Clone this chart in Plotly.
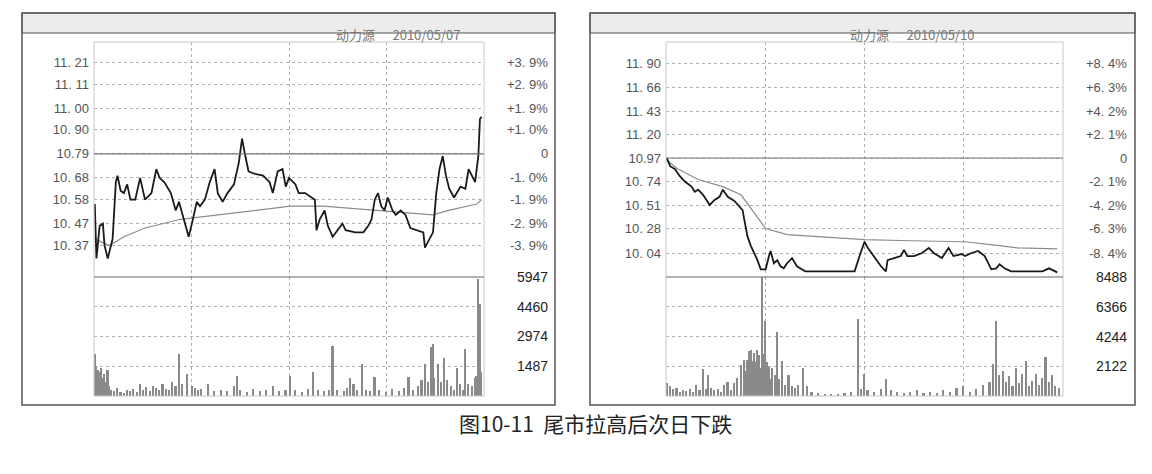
import plotly.graph_objects as go

# ---------------- data: left panel (2010/05/07) ----------------
L_title = "动力源      2010/05/07"
L_min = [0,1,3,5,6,8,11,13,14,16,18,20,22,25,28,31,35,38,40,43,47,50,52,56,58,60,63,65,68,71,74,76,79,82,86,89,91,93,95,98,104,108,110,113,116,118,120,124,126,130,134,136,137,139,142,144,147,150,153,155,161,166,169,171,173,175,177,179,181,184,186,189,192,195,199,203,204,206,209,211,213,215,217,219,222,226,229,231,233,235,237,238,239]
L_price = [10.56,10.31,10.46,10.47,10.37,10.31,10.40,10.66,10.69,10.62,10.61,10.65,10.58,10.58,10.68,10.58,10.61,10.72,10.68,10.66,10.61,10.53,10.57,10.46,10.41,10.47,10.57,10.55,10.58,10.66,10.72,10.61,10.57,10.61,10.65,10.75,10.86,10.78,10.71,10.70,10.69,10.66,10.61,10.71,10.72,10.64,10.68,10.65,10.61,10.61,10.59,10.58,10.44,10.49,10.53,10.46,10.41,10.44,10.47,10.44,10.43,10.43,10.46,10.49,10.58,10.61,10.55,10.53,10.59,10.53,10.51,10.53,10.51,10.45,10.44,10.43,10.36,10.39,10.43,10.61,10.72,10.78,10.69,10.63,10.59,10.64,10.63,10.72,10.69,10.66,10.78,10.95,10.96]
L_avg_min = [0,9,18,31,53,86,121,141,174,209,218,236,239]
L_avg = [10.40,10.37,10.41,10.45,10.49,10.52,10.55,10.55,10.53,10.51,10.53,10.56,10.58]
L_vol_min = [0,1,2,3,4,5,6,7,8,9,10,12,14,16,18,20,22,24,26,28,30,32,34,36,38,40,42,44,46,48,50,52,54,57,60,62,64,66,70,74,78,82,86,88,90,94,98,102,106,110,114,118,121,124,128,132,135,138,142,145,147,150,154,156,158,160,162,165,168,170,173,176,180,184,188,191,194,197,200,202,204,206,208,209,210,212,214,216,218,220,222,224,226,228,229,231,233,235,236,237,238,239]
L_vol = [2090,1500,1300,1200,1400,900,1100,700,1300,500,300,250,400,200,150,300,250,350,200,600,300,450,250,500,400,300,600,350,300,700,500,2100,600,1100,500,400,300,350,600,250,300,250,500,1000,300,200,350,250,300,500,250,300,1000,300,200,350,1200,300,250,300,2500,300,250,400,900,600,300,1600,300,250,950,300,200,350,250,400,950,300,500,800,1600,700,2450,2600,900,1600,700,1900,800,500,300,1400,600,300,2350,600,500,900,1000,5860,4600,1200]

# ---------------- data: right panel (2010/05/10) ----------------
R_title = "动力源      2010/05/10"
R_min = [0,2,5,8,11,15,17,19,22,24,26,29,32,34,37,41,44,46,47,49,51,55,57,60,62,63,65,67,69,71,73,76,79,84,92,105,114,117,120,122,127,130,133,134,138,142,144,146,150,155,159,162,167,171,174,179,181,185,189,193,197,200,202,205,209,215,228,232,237]
R_price = [10.97,10.89,10.86,10.79,10.74,10.69,10.64,10.66,10.61,10.56,10.51,10.56,10.59,10.66,10.59,10.55,10.50,10.46,10.37,10.20,10.11,9.97,9.88,9.88,10.01,10.06,9.94,9.97,9.91,9.89,9.94,9.99,9.91,9.86,9.86,9.86,9.86,10.01,10.15,10.09,9.97,9.91,9.86,9.97,9.99,10.01,10.07,10.01,10.01,10.04,10.09,10.04,9.99,10.09,10.01,10.03,10.01,10.04,10.06,10.01,9.88,9.89,9.93,9.89,9.86,9.86,9.86,9.89,9.85]
R_avg_min = [0,6,19,34,45,53,60,73,94,120,148,181,198,213,237]
R_avg = [10.95,10.87,10.76,10.69,10.61,10.43,10.28,10.22,10.20,10.17,10.16,10.15,10.12,10.09,10.08]
R_vol_min = [0,2,4,6,8,10,12,14,16,18,20,22,24,25,27,29,31,33,35,37,39,41,43,45,47,48,49,50,51,52,53,54,55,56,57,58,59,60,61,62,63,64,66,67,68,70,72,74,76,78,80,83,85,88,92,96,100,104,108,112,116,118,120,122,126,130,133,136,140,144,148,152,156,160,164,168,172,176,180,184,188,192,196,198,200,202,204,206,208,210,212,214,216,218,220,222,224,226,228,230,232,234,236,238]
R_vol = [900,700,500,600,300,400,350,500,300,800,400,1900,500,1500,600,400,500,300,800,1000,400,900,1300,2200,2600,1800,2600,3200,3300,2500,3100,2400,3300,2900,2000,8488,3000,5380,2400,2100,1200,2000,1500,4540,1200,2500,800,1500,700,600,800,2030,700,300,200,150,100,150,200,300,5500,500,1550,400,300,500,1200,400,300,200,300,400,200,300,250,400,300,600,700,300,500,800,1000,2270,5380,1500,1800,1000,1400,700,2000,900,1600,2500,700,1100,1600,800,1300,2750,1000,1500,700,600]

L_ticks = [11.21,11.11,11.00,10.90,10.79,10.68,10.58,10.47,10.37]
L_pct = ["+3.9%","+2.9%","+1.9%","+1.0%","0","-1.0%","-1.9%","-2.9%","-3.9%"]
L_vticks = [5947,4460,2974,1487]
R_ticks = [11.90,11.66,11.43,11.20,10.97,10.74,10.51,10.28,10.04]
R_pct = ["+8.4%","+6.3%","+4.2%","+2.1%","0","-2.1%","-4.2%","-6.3%","-8.4%"]
R_vticks = [8488,6366,4244,2122]
caption = "图10-11  尾市拉高后次日下跌"

OFF = 8  # page body margin
W, H = 1152 - 2 * OFF, 474 - 2 * OFF
def px(x): return (x - OFF) / W
def py(y): return 1 - (y - OFF) / H

fig = go.Figure()
panels = [
    dict(x0=94, x1=484, fx0=22, fx1=555, tx=398, title=L_title, m=L_min, p=L_price, am=L_avg_min, a=L_avg,
         vm=L_vol_min, v=L_vol, ticks=L_ticks, pct=L_pct, vt=L_vticks, pr=[10.2253, 11.303], vr=[0, 5947], ax=("x", "y", "y2")),
    dict(x0=666, x1=1063, fx0=590, fx1=1135, tx=976, title=R_title, m=R_min, p=R_price, am=R_avg_min, a=R_avg,
         vm=R_vol_min, v=R_vol, ticks=R_ticks, pct=R_pct, vt=R_vticks, pr=[9.805, 12.106], vr=[0, 8488], ax=("x2", "y3", "y4")),
]
ytop, ymid, ybot = 42, 277, 396
grid = "#b0b0b0"
font_lbl = dict(family="Liberation Sans, DejaVu Sans", size=13, color="#555")
shapes, annots = [], []
for i, P in enumerate(panels):
    xa, ya, yv = P["ax"]
    fig.add_trace(go.Bar(x=P["vm"], y=P["v"], xaxis=xa, yaxis=yv, width=1.0,
                         marker=dict(color="#8a8a8a", line=dict(width=0)), showlegend=False))
    fig.add_trace(go.Scatter(x=P["am"], y=P["a"], xaxis=xa, yaxis=ya, mode="lines",
                             line=dict(color="#8c8c8c", width=1.2), showlegend=False))
    fig.add_trace(go.Scatter(x=P["m"], y=P["p"], xaxis=xa, yaxis=ya, mode="lines",
                             line=dict(color="#1a1a1a", width=1.8), showlegend=False))
    xk = "xaxis" if i == 0 else "xaxis2"
    fig.layout[xk] = dict(domain=[px(P["x0"]), px(P["x1"])], range=[-0.5, 240.5], tickvals=[60, 120, 180],
                          showticklabels=False, showgrid=True, gridcolor=grid, griddash="dot", zeroline=False,
                          anchor=yv)
    yk = "yaxis" if i == 0 else "yaxis3"
    vk = "yaxis2" if i == 0 else "yaxis4"
    fig.layout[yk] = dict(domain=[py(ymid), py(ytop)], range=P["pr"], anchor=xa, tickvals=P["ticks"],
                          ticktext=[f"{t:.2f}".replace(".", ". ") if t != P["ticks"][4] else f"{t:.2f}" for t in P["ticks"]],
                          showgrid=True, gridcolor=grid, griddash="dot", zeroline=False, ticks="",
                          tickfont=font_lbl, ticklabelstandoff=4)
    fig.layout[vk] = dict(domain=[py(ybot), py(ymid)], range=P["vr"], anchor=xa, tickvals=P["vt"],
                          showticklabels=False, showgrid=True, gridcolor=grid, griddash="dot", zeroline=False)
    shapes += [
        dict(type="rect", xref="paper", yref="paper", x0=px(P["fx0"]), x1=px(P["fx1"]), y0=py(405), y1=py(13),
             line=dict(color="#555", width=1.5)),
        dict(type="rect", xref="paper", yref="paper", x0=px(P["fx0"]), x1=px(P["fx1"]), y0=py(33), y1=py(13),
             line=dict(color="#555", width=1), fillcolor="#ececec", layer="below"),
        dict(type="rect", xref="paper", yref="paper", x0=px(P["x0"]), x1=px(P["x1"]), y0=py(ybot), y1=py(ytop),
             line=dict(color="#c8c8c8", width=1)),
        dict(type="line", xref="paper", yref="paper", x0=px(P["x0"]), x1=px(P["x1"]), y0=py(ymid), y1=py(ymid),
             line=dict(color="#666", width=1.2)),
        dict(type="line", xref="paper", yref=ya, x0=px(P["x0"]), x1=px(P["x1"]), y0=P["ticks"][4], y1=P["ticks"][4],
             line=dict(color="#777", width=1.2)),
    ]
    annots.append(dict(x=px(P["tx"]), y=py(23), xref="paper", yref="paper", text=P["title"], showarrow=False,
                       font=dict(family="Noto Sans CJK SC", size=13, color="#777")))
    lx = px(P["x1"] + 66)
    for t, s in zip(P["ticks"], P["pct"]):
        annots.append(dict(x=lx, xref="paper", y=t, yref=ya, text=s.replace(".", ". "), showarrow=False,
                           xanchor="right", font=font_lbl))
    for t in P["vt"]:
        annots.append(dict(x=lx, xref="paper", y=t, yref=vk.replace("axis", ""), text=str(t), showarrow=False,
                           xanchor="right", font=dict(family="Liberation Sans Narrow, Liberation Sans", size=14, color="#222")))

annots.append(dict(x=px(595), y=py(440), xref="paper", yref="paper", text=caption, showarrow=False,
                   font=dict(family="Noto Sans CJK SC", size=21, color="#222")))
fig.update_layout(width=W, height=H, margin=dict(l=0, r=0, t=0, b=0), plot_bgcolor="white",
                  paper_bgcolor="white", shapes=shapes, annotations=annots, bargap=0)
fig.write_html("out.html")
